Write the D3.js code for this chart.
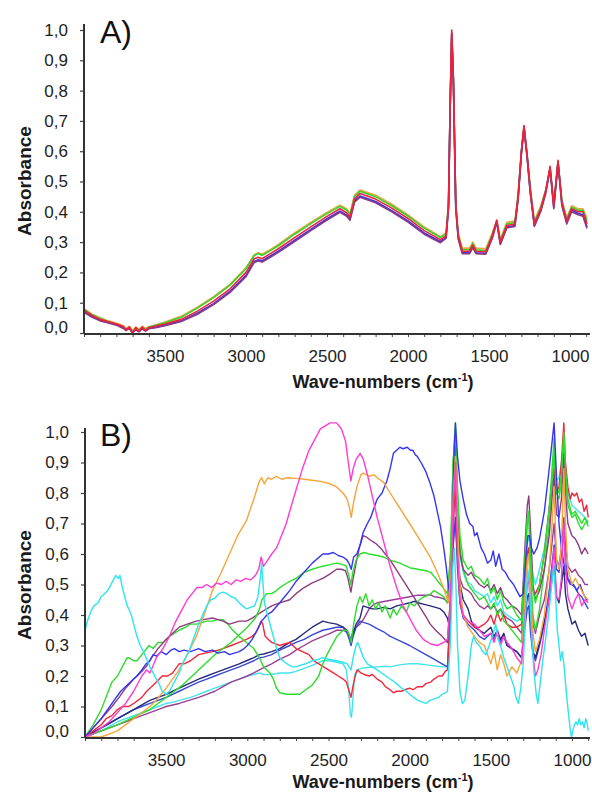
<!DOCTYPE html>
<html>
<head>
<meta charset="utf-8">
<script src="https://cdn.jsdelivr.net/npm/d3@7/dist/d3.min.js"></script>
<style>
  body { margin: 0; background: #fff; }
  svg { display: block; font-family: "Liberation Sans", Arial, sans-serif; }
</style>
</head>
<body>
<svg id="chart" width="592" height="793"></svg>
<script>
// ---------- panel A : wave-numbers shared by all series ----------
const wnA = [4000,3950,3900,3850,3800,3760,3740,3720,3700,3680,3660,3640,3620,3600,3550,3500,3400,3300,3200,3100,
  3000,2950,2925,2900,2850,2800,2700,2600,2500,2420,2380,2358,2330,2296,2200,2100,2000,1900,1800,1765,
  1750,1740,1730,1720,1705,1690,1665,1620,1600,1580,1520,1480,1452,1430,1390,1340,1320,1300,1284,1265,
  1245,1220,1180,1150,1123,1100,1074,1050,1020,990,950,920,895];

const aRed = [0.075,0.058,0.045,0.037,0.03,0.022,0.01,0.02,0.0,0.018,0.005,0.02,0.008,0.018,0.024,0.03,0.045,0.072,0.105,0.145,
  0.2,0.245,0.25,0.245,0.262,0.278,0.315,0.35,0.385,0.41,0.397,0.383,0.443,0.46,0.442,0.412,0.378,0.338,0.308,0.32,
  0.42,0.75,1.0,0.85,0.42,0.32,0.27,0.27,0.29,0.27,0.268,0.32,0.373,0.3,0.355,0.36,0.45,0.6,0.685,0.59,
  0.47,0.36,0.41,0.47,0.55,0.42,0.57,0.43,0.37,0.41,0.4,0.4,0.36];
const aOrange = [0.08,0.062,0.05,0.04,0.032,0.025,0.015,0.022,0.008,0.02,0.012,0.022,0.015,0.02,0.028,0.036,0.055,0.085,0.12,0.16,
  0.215,0.258,0.265,0.26,0.275,0.292,0.33,0.365,0.398,0.422,0.41,0.395,0.455,0.472,0.455,0.425,0.39,0.35,0.318,0.33,
  0.43,0.74,0.98,0.84,0.43,0.33,0.28,0.28,0.3,0.28,0.278,0.33,0.37,0.31,0.365,0.37,0.46,0.6,0.675,0.59,
  0.48,0.37,0.42,0.47,0.54,0.43,0.56,0.44,0.38,0.42,0.41,0.41,0.38];
const aGreen = [0.078,0.06,0.048,0.038,0.03,0.02,0.012,0.018,0.005,0.015,0.01,0.018,0.012,0.02,0.026,0.034,0.052,0.082,0.117,0.157,
  0.212,0.255,0.262,0.256,0.272,0.288,0.326,0.361,0.394,0.418,0.406,0.39,0.45,0.468,0.45,0.42,0.386,0.346,0.315,0.327,
  0.425,0.74,0.99,0.84,0.425,0.325,0.275,0.275,0.295,0.275,0.272,0.325,0.368,0.305,0.36,0.365,0.455,0.6,0.68,0.59,
  0.475,0.365,0.415,0.47,0.545,0.425,0.565,0.435,0.375,0.415,0.405,0.405,0.37];
const aBlue = [0.07,0.055,0.042,0.035,0.028,0.018,0.012,0.015,0.002,0.012,0.005,0.015,0.008,0.015,0.02,0.026,0.04,0.065,0.097,0.137,
  0.19,0.236,0.242,0.238,0.254,0.27,0.306,0.342,0.377,0.402,0.39,0.376,0.436,0.452,0.434,0.404,0.37,0.33,0.302,0.315,
  0.415,0.74,0.99,0.84,0.415,0.315,0.265,0.265,0.285,0.265,0.263,0.315,0.368,0.295,0.35,0.355,0.445,0.595,0.68,0.585,
  0.465,0.355,0.405,0.465,0.545,0.415,0.565,0.425,0.365,0.405,0.395,0.39,0.35];
const aPurple = [0.068,0.052,0.04,0.033,0.026,0.016,0.008,0.015,0.0,0.012,0.004,0.014,0.006,0.014,0.018,0.024,0.038,0.062,0.094,0.133,
  0.186,0.232,0.238,0.234,0.25,0.266,0.302,0.338,0.373,0.398,0.386,0.372,0.432,0.448,0.43,0.4,0.366,0.326,0.298,0.312,
  0.41,0.73,0.985,0.835,0.41,0.31,0.262,0.262,0.282,0.262,0.26,0.312,0.365,0.292,0.347,0.352,0.442,0.59,0.675,0.58,
  0.46,0.352,0.402,0.46,0.54,0.41,0.56,0.42,0.36,0.4,0.39,0.385,0.345];

// ---------- panel B : [wave-number, absorbance] ----------
const bOrange = [[4000,0],[3900,0],[3800,0.02],[3700,0.06],[3600,0.1],[3562,0.12],[3500,0.16],[3420,0.22],[3360,0.28],[3314,0.33],[3260,0.41],[3215,0.48],[3160,0.54],[3110,0.6],[3060,0.66],[3005,0.71],[2960,0.78],[2925,0.84],[2912,0.85],[2895,0.83],[2875,0.85],[2850,0.845],[2820,0.855],[2790,0.845],[2750,0.85],[2700,0.848],[2650,0.845],[2600,0.842],[2550,0.838],[2500,0.832],[2450,0.82],[2410,0.8],[2385,0.78],[2370,0.75],[2360,0.72],[2345,0.77],[2325,0.82],[2300,0.86],[2287,0.865],[2250,0.855],[2220,0.86],[2200,0.85],[2160,0.835],[2120,0.8],[2060,0.75],[2000,0.7],[1930,0.64],[1873,0.59],[1830,0.54],[1792,0.49],[1760,0.44],[1745,0.55],[1730,0.8],[1718,0.92],[1705,0.7],[1690,0.5],[1670,0.4],[1640,0.36],[1600,0.33],[1570,0.31],[1540,0.3],[1500,0.24],[1480,0.28],[1460,0.22],[1440,0.27],[1420,0.24],[1400,0.2],[1370,0.23],[1340,0.21],[1310,0.25],[1290,0.45],[1275,0.58],[1266,0.6],[1255,0.48],[1240,0.34],[1225,0.28],[1200,0.32],[1170,0.4],[1140,0.55],[1120,0.72],[1110,0.82],[1095,0.58],[1080,0.55],[1065,0.62],[1050,0.88],[1040,0.7],[1025,0.55],[1000,0.5],[980,0.52],[960,0.5],[940,0.48],[920,0.46],[900,0.45]];
const bMagenta = [[4000,0],[3950,0.01],[3900,0.03],[3850,0.05],[3800,0.08],[3750,0.11],[3700,0.15],[3650,0.2],[3620,0.22],[3600,0.21],[3560,0.26],[3520,0.29],[3480,0.33],[3440,0.38],[3400,0.42],[3370,0.45],[3340,0.47],[3310,0.49],[3280,0.49],[3250,0.5],[3220,0.49],[3190,0.505],[3160,0.5],[3130,0.51],[3100,0.5],[3070,0.515],[3040,0.51],[3010,0.52],[2980,0.515],[2950,0.53],[2930,0.55],[2915,0.59],[2900,0.56],[2880,0.575],[2850,0.6],[2820,0.62],[2790,0.66],[2760,0.7],[2739,0.74],[2700,0.81],[2660,0.88],[2620,0.94],[2580,0.98],[2550,1.01],[2520,1.02],[2490,1.03],[2450,1.03],[2420,1.01],[2395,0.97],[2378,0.9],[2362,0.84],[2348,0.88],[2330,0.91],[2305,0.93],[2285,0.91],[2260,0.86],[2230,0.79],[2200,0.72],[2160,0.64],[2120,0.56],[2080,0.49],[2040,0.43],[2000,0.39],[1960,0.35],[1916,0.32],[1870,0.305],[1830,0.3],[1790,0.31],[1767,0.32],[1748,0.45],[1732,0.75],[1718,0.9],[1705,0.6],[1690,0.45],[1670,0.4],[1640,0.38],[1600,0.37],[1570,0.35],[1540,0.33],[1500,0.34],[1480,0.31],[1460,0.35],[1440,0.3],[1420,0.33],[1400,0.31],[1370,0.29],[1340,0.26],[1310,0.24],[1290,0.4],[1275,0.5],[1266,0.52],[1255,0.4],[1240,0.27],[1225,0.2],[1210,0.22],[1190,0.27],[1170,0.35],[1140,0.46],[1120,0.56],[1110,0.62],[1095,0.46],[1080,0.45],[1065,0.52],[1050,0.7],[1040,0.56],[1025,0.46],[1000,0.42],[980,0.45],[960,0.47],[940,0.43],[920,0.45],[900,0.44]];
const bGreen1 = [[4000,0],[3900,0.02],[3800,0.04],[3700,0.065],[3600,0.09],[3500,0.13],[3450,0.15],[3400,0.17],[3350,0.195],[3300,0.22],[3250,0.245],[3200,0.27],[3150,0.29],[3100,0.31],[3050,0.335],[3000,0.36],[2950,0.39],[2925,0.42],[2910,0.45],[2895,0.46],[2880,0.47],[2850,0.47],[2820,0.48],[2800,0.49],[2770,0.5],[2739,0.51],[2700,0.52],[2650,0.54],[2600,0.55],[2535,0.56],[2490,0.565],[2450,0.57],[2410,0.565],[2390,0.56],[2375,0.53],[2362,0.5],[2350,0.54],[2330,0.58],[2306,0.6],[2280,0.605],[2250,0.6],[2200,0.595],[2160,0.59],[2120,0.58],[2060,0.57],[2000,0.555],[1950,0.55],[1900,0.545],[1870,0.54],[1840,0.52],[1810,0.5],[1780,0.48],[1767,0.47],[1748,0.6],[1732,0.9],[1718,1.03],[1705,0.82],[1690,0.66],[1670,0.58],[1640,0.55],[1620,0.56],[1600,0.53],[1570,0.52],[1540,0.5],[1520,0.52],[1500,0.47],[1480,0.49],[1460,0.45],[1440,0.48],[1420,0.44],[1400,0.42],[1370,0.43],[1340,0.4],[1310,0.38],[1290,0.58],[1275,0.72],[1266,0.74],[1255,0.6],[1240,0.48],[1225,0.44],[1200,0.5],[1170,0.6],[1140,0.75],[1120,0.9],[1110,0.98],[1095,0.82],[1080,0.8],[1065,0.86],[1050,1.0],[1040,0.88],[1025,0.78],[1000,0.73],[980,0.74],[960,0.72],[940,0.7],[920,0.72],[900,0.69]];
const bGreen2 = [[4000,0],[3950,0.04],[3900,0.09],[3870,0.13],[3834,0.18],[3800,0.2],[3770,0.23],[3740,0.26],[3729,0.26],[3700,0.25],[3680,0.25],[3650,0.27],[3620,0.29],[3605,0.3],[3580,0.29],[3550,0.31],[3520,0.31],[3480,0.33],[3450,0.34],[3420,0.35],[3380,0.36],[3350,0.37],[3314,0.37],[3280,0.375],[3250,0.38],[3215,0.38],[3180,0.385],[3150,0.385],[3120,0.37],[3090,0.35],[3050,0.33],[3005,0.31],[2960,0.29],[2925,0.26],[2900,0.23],[2880,0.22],[2860,0.21],[2840,0.19],[2820,0.16],[2800,0.145],[2760,0.14],[2720,0.14],[2677,0.14],[2640,0.155],[2600,0.17],[2560,0.2],[2535,0.24],[2500,0.28],[2448,0.33],[2410,0.35],[2386,0.35],[2370,0.33],[2360,0.31],[2345,0.37],[2325,0.43],[2306,0.46],[2290,0.44],[2270,0.47],[2250,0.43],[2230,0.45],[2210,0.42],[2190,0.44],[2170,0.41],[2150,0.43],[2120,0.39],[2100,0.42],[2080,0.4],[2050,0.43],[2020,0.41],[2000,0.44],[1970,0.43],[1940,0.45],[1910,0.46],[1880,0.465],[1850,0.48],[1820,0.47],[1790,0.46],[1767,0.44],[1748,0.6],[1732,0.9],[1718,1.0],[1705,0.78],[1690,0.62],[1670,0.55],[1640,0.5],[1600,0.47],[1570,0.45],[1540,0.46],[1500,0.42],[1480,0.44],[1460,0.4],[1440,0.42],[1420,0.38],[1400,0.37],[1370,0.35],[1340,0.33],[1310,0.31],[1290,0.55],[1275,0.7],[1266,0.72],[1255,0.55],[1240,0.4],[1225,0.35],[1200,0.42],[1170,0.55],[1140,0.7],[1120,0.85],[1110,0.93],[1095,0.8],[1080,0.78],[1065,0.84],[1050,0.98],[1040,0.85],[1025,0.76],[1000,0.72],[980,0.73],[960,0.7],[940,0.68],[920,0.7],[900,0.71]];
const bBlue1 = [[4000,0],[3950,0.03],[3900,0.06],[3834,0.11],[3780,0.15],[3720,0.18],[3680,0.2],[3650,0.22],[3624,0.24],[3600,0.25],[3580,0.27],[3560,0.265],[3530,0.28],[3500,0.27],[3470,0.285],[3450,0.29],[3420,0.28],[3390,0.285],[3350,0.28],[3300,0.29],[3260,0.28],[3215,0.285],[3180,0.275],[3140,0.28],[3110,0.27],[3080,0.275],[3050,0.28],[3020,0.29],[3000,0.3],[2970,0.32],[2940,0.35],[2912,0.38],[2880,0.4],[2850,0.41],[2800,0.44],[2770,0.46],[2739,0.48],[2700,0.51],[2650,0.54],[2600,0.57],[2535,0.6],[2500,0.6],[2470,0.605],[2440,0.595],[2410,0.59],[2385,0.58],[2370,0.565],[2360,0.55],[2345,0.59],[2325,0.6],[2305,0.63],[2287,0.67],[2260,0.7],[2240,0.72],[2220,0.75],[2200,0.78],[2170,0.8],[2140,0.84],[2120,0.88],[2100,0.93],[2080,0.94],[2060,0.95],[2040,0.945],[2015,0.95],[1995,0.94],[1980,0.94],[1965,0.925],[1953,0.92],[1930,0.9],[1900,0.87],[1873,0.83],[1850,0.79],[1830,0.74],[1810,0.69],[1790,0.62],[1775,0.56],[1767,0.52],[1752,0.46],[1740,0.6],[1728,0.9],[1718,1.03],[1705,0.92],[1690,0.84],[1670,0.78],[1650,0.73],[1630,0.7],[1610,0.69],[1600,0.66],[1585,0.67],[1560,0.62],[1540,0.6],[1520,0.57],[1500,0.58],[1485,0.61],[1470,0.56],[1450,0.6],[1430,0.55],[1410,0.54],[1390,0.52],[1360,0.5],[1340,0.48],[1320,0.46],[1300,0.47],[1285,0.58],[1272,0.66],[1262,0.66],[1250,0.62],[1235,0.6],[1215,0.62],[1200,0.65],[1170,0.74],[1140,0.88],[1120,0.98],[1110,1.03],[1095,0.85],[1080,0.7],[1065,0.62],[1050,0.57],[1030,0.52],[1010,0.5],[990,0.5],[970,0.48],[950,0.5],[930,0.47],[910,0.45],[900,0.45]];
const bPlum = [[4000,0],[3950,0.03],[3900,0.06],[3834,0.1],[3790,0.13],[3750,0.16],[3700,0.19],[3660,0.21],[3624,0.23],[3590,0.26],[3550,0.29],[3500,0.32],[3460,0.34],[3420,0.36],[3370,0.37],[3314,0.38],[3270,0.385],[3215,0.39],[3180,0.385],[3150,0.38],[3110,0.37],[3080,0.375],[3050,0.38],[3005,0.38],[2970,0.39],[2940,0.4],[2912,0.41],[2880,0.42],[2850,0.43],[2800,0.44],[2739,0.45],[2700,0.47],[2650,0.49],[2600,0.505],[2535,0.52],[2490,0.535],[2450,0.55],[2420,0.55],[2395,0.545],[2380,0.52],[2362,0.475],[2348,0.52],[2330,0.57],[2310,0.62],[2287,0.66],[2265,0.655],[2240,0.645],[2210,0.635],[2180,0.62],[2150,0.6],[2120,0.58],[2090,0.555],[2060,0.53],[2030,0.505],[2000,0.48],[1970,0.455],[1930,0.42],[1900,0.395],[1873,0.37],[1840,0.35],[1800,0.33],[1767,0.31],[1750,0.45],[1732,0.8],[1718,0.95],[1705,0.72],[1690,0.6],[1670,0.55],[1640,0.53],[1620,0.54],[1600,0.52],[1570,0.5],[1540,0.49],[1520,0.5],[1500,0.48],[1480,0.5],[1460,0.47],[1440,0.49],[1420,0.46],[1400,0.45],[1370,0.43],[1340,0.42],[1310,0.4],[1290,0.62],[1275,0.76],[1266,0.79],[1255,0.68],[1240,0.5],[1225,0.45],[1200,0.48],[1170,0.55],[1140,0.66],[1120,0.8],[1110,0.86],[1095,0.73],[1080,0.72],[1065,0.78],[1050,0.93],[1040,0.8],[1025,0.7],[1000,0.66],[980,0.65],[960,0.63],[940,0.6],[920,0.62],[900,0.6]];
const bNavy = [[4000,0],[3950,0.015],[3900,0.03],[3850,0.045],[3800,0.06],[3750,0.075],[3700,0.09],[3650,0.105],[3600,0.12],[3550,0.13],[3500,0.14],[3460,0.15],[3420,0.16],[3360,0.175],[3300,0.19],[3250,0.2],[3200,0.21],[3150,0.22],[3100,0.23],[3050,0.24],[3005,0.25],[2960,0.26],[2925,0.27],[2900,0.272],[2850,0.28],[2800,0.29],[2739,0.31],[2700,0.32],[2650,0.34],[2600,0.36],[2535,0.38],[2500,0.375],[2450,0.37],[2410,0.36],[2385,0.35],[2370,0.33],[2361,0.31],[2348,0.34],[2330,0.37],[2306,0.39],[2287,0.43],[2260,0.425],[2230,0.42],[2200,0.42],[2160,0.425],[2120,0.42],[2080,0.43],[2040,0.435],[2000,0.44],[1970,0.445],[1950,0.44],[1910,0.435],[1873,0.43],[1840,0.425],[1810,0.42],[1790,0.41],[1767,0.39],[1755,0.36],[1740,0.55],[1728,0.75],[1718,0.82],[1705,0.62],[1690,0.5],[1670,0.45],[1640,0.42],[1620,0.38],[1600,0.36],[1570,0.35],[1540,0.34],[1520,0.35],[1500,0.36],[1480,0.33],[1460,0.35],[1440,0.32],[1420,0.34],[1400,0.3],[1370,0.29],[1340,0.28],[1310,0.26],[1290,0.38],[1275,0.46],[1266,0.47],[1255,0.38],[1240,0.28],[1225,0.26],[1200,0.31],[1170,0.38],[1140,0.45],[1120,0.53],[1110,0.56],[1095,0.46],[1080,0.44],[1065,0.5],[1050,0.56],[1040,0.47],[1025,0.42],[1000,0.37],[980,0.38],[960,0.35],[940,0.33],[920,0.34],[900,0.3]];
const bPurple = [[4000,0],[3950,0.01],[3900,0.02],[3850,0.03],[3800,0.04],[3750,0.05],[3700,0.06],[3650,0.07],[3600,0.08],[3550,0.09],[3500,0.1],[3460,0.105],[3420,0.11],[3360,0.12],[3300,0.13],[3250,0.14],[3200,0.15],[3150,0.165],[3100,0.18],[3050,0.19],[3000,0.2],[2960,0.21],[2925,0.22],[2890,0.23],[2850,0.24],[2800,0.255],[2739,0.27],[2700,0.285],[2650,0.3],[2600,0.315],[2535,0.33],[2490,0.34],[2450,0.35],[2410,0.35],[2385,0.345],[2372,0.33],[2361,0.32],[2348,0.35],[2330,0.36],[2306,0.37],[2280,0.39],[2250,0.42],[2220,0.435],[2200,0.44],[2150,0.445],[2100,0.45],[2050,0.455],[2000,0.46],[1950,0.465],[1900,0.465],[1870,0.466],[1850,0.46],[1820,0.458],[1800,0.455],[1780,0.45],[1767,0.44],[1750,0.5],[1732,0.65],[1718,0.7],[1705,0.6],[1690,0.52],[1670,0.49],[1640,0.48],[1620,0.47],[1600,0.45],[1570,0.43],[1540,0.42],[1520,0.43],[1500,0.42],[1480,0.43],[1460,0.41],[1440,0.42],[1420,0.4],[1400,0.39],[1370,0.38],[1340,0.36],[1310,0.34],[1290,0.5],[1275,0.6],[1266,0.62],[1255,0.5],[1240,0.37],[1225,0.34],[1200,0.4],[1170,0.45],[1140,0.55],[1120,0.65],[1110,0.7],[1095,0.58],[1080,0.56],[1065,0.62],[1050,0.72],[1040,0.63],[1025,0.56],[1000,0.54],[980,0.55],[960,0.53],[940,0.52],[920,0.5],[900,0.5]];
const bRed = [[4000,0],[3950,0.02],[3900,0.04],[3870,0.06],[3834,0.07],[3800,0.09],[3770,0.1],[3730,0.1],[3700,0.11],[3650,0.13],[3620,0.15],[3600,0.16],[3560,0.18],[3525,0.2],[3490,0.2],[3460,0.21],[3420,0.24],[3390,0.24],[3350,0.25],[3300,0.27],[3260,0.275],[3215,0.28],[3180,0.285],[3150,0.29],[3100,0.3],[3050,0.31],[3005,0.32],[2970,0.33],[2950,0.34],[2930,0.36],[2915,0.38],[2905,0.37],[2890,0.33],[2870,0.32],[2850,0.31],[2800,0.3],[2770,0.305],[2739,0.31],[2700,0.29],[2660,0.28],[2620,0.27],[2590,0.25],[2560,0.24],[2530,0.23],[2500,0.22],[2470,0.21],[2440,0.2],[2410,0.19],[2390,0.18],[2375,0.155],[2361,0.13],[2348,0.17],[2330,0.21],[2320,0.22],[2300,0.21],[2280,0.205],[2250,0.2],[2230,0.205],[2200,0.19],[2170,0.18],[2150,0.165],[2120,0.155],[2100,0.145],[2080,0.15],[2050,0.15],[2030,0.155],[2000,0.16],[1980,0.155],[1950,0.165],[1920,0.165],[1900,0.175],[1870,0.18],[1850,0.19],[1820,0.2],[1800,0.2],[1780,0.215],[1767,0.22],[1755,0.35],[1742,0.48],[1730,0.7],[1718,0.88],[1705,0.6],[1690,0.44],[1670,0.4],[1640,0.38],[1620,0.37],[1600,0.36],[1570,0.36],[1540,0.37],[1520,0.38],[1500,0.4],[1480,0.37],[1460,0.41],[1440,0.38],[1420,0.4],[1400,0.37],[1370,0.36],[1340,0.36],[1310,0.37],[1290,0.5],[1275,0.6],[1266,0.62],[1255,0.54],[1240,0.48],[1225,0.47],[1200,0.5],[1170,0.6],[1140,0.75],[1120,0.85],[1110,0.88],[1095,0.8],[1080,0.82],[1065,0.9],[1050,1.03],[1040,0.9],[1025,0.82],[1010,0.78],[1000,0.8],[985,0.79],[970,0.8],[955,0.77],[940,0.78],[925,0.74],[910,0.76],[900,0.72]];
const bCyan1 = [[4000,0.35],[3985,0.38],[3965,0.41],[3945,0.43],[3920,0.44],[3900,0.46],[3880,0.47],[3860,0.48],[3840,0.5],[3820,0.52],[3810,0.53],[3795,0.52],[3785,0.53],[3770,0.49],[3755,0.46],[3740,0.43],[3730,0.42],[3715,0.4],[3700,0.37],[3680,0.33],[3660,0.3],[3640,0.28],[3624,0.26],[3600,0.23],[3580,0.21],[3560,0.19],[3540,0.17],[3525,0.15],[3500,0.14],[3480,0.15],[3460,0.17],[3440,0.19],[3420,0.21],[3400,0.24],[3380,0.26],[3360,0.28],[3340,0.31],[3320,0.34],[3300,0.37],[3275,0.4],[3250,0.43],[3225,0.45],[3200,0.455],[3175,0.47],[3150,0.475],[3125,0.47],[3100,0.46],[3075,0.455],[3050,0.44],[3030,0.43],[3005,0.42],[2980,0.425],[2955,0.43],[2935,0.46],[2920,0.52],[2912,0.57],[2903,0.5],[2895,0.44],[2880,0.41],[2870,0.39],[2860,0.37],[2850,0.35],[2840,0.33],[2820,0.29],[2800,0.26],[2770,0.245],[2740,0.235],[2720,0.23],[2700,0.23],[2677,0.235],[2640,0.24],[2600,0.25],[2560,0.255],[2535,0.26],[2500,0.255],[2450,0.25],[2410,0.245],[2385,0.24],[2372,0.23],[2361,0.22],[2348,0.26],[2330,0.3],[2320,0.31],[2305,0.29],[2285,0.26],[2260,0.24],[2230,0.23],[2200,0.22],[2160,0.205],[2120,0.19],[2080,0.175],[2050,0.16],[2020,0.15],[2000,0.14],[1975,0.13],[1950,0.12],[1925,0.115],[1900,0.11],[1875,0.12],[1850,0.125],[1820,0.13],[1800,0.14],[1780,0.145],[1767,0.15],[1750,0.3],[1735,0.55],[1725,0.62],[1715,0.5],[1705,0.3],[1690,0.15],[1675,0.11],[1660,0.12],[1640,0.2],[1620,0.3],[1606,0.33],[1590,0.31],[1570,0.3],[1550,0.28],[1530,0.27],[1510,0.3],[1490,0.33],[1470,0.37],[1455,0.32],[1440,0.3],[1420,0.26],[1400,0.23],[1380,0.2],[1360,0.17],[1345,0.13],[1330,0.11],[1315,0.16],[1300,0.24],[1285,0.42],[1272,0.55],[1262,0.5],[1250,0.35],[1235,0.22],[1220,0.14],[1210,0.11],[1195,0.18],[1180,0.25],[1160,0.33],[1140,0.42],[1125,0.5],[1112,0.56],[1100,0.45],[1090,0.35],[1080,0.3],[1070,0.25],[1060,0.28],[1050,0.24],[1040,0.18],[1030,0.12],[1020,0.07],[1010,0.02],[1003,0],[995,0.02],[985,0.04],[975,0.05],[965,0.04],[955,0.06],[945,0.04],[935,0.05],[925,0.03],[915,0.06],[905,0.04],[900,0.02]];
const bCyan2 = [[4000,0],[3950,0.01],[3900,0.02],[3850,0.035],[3800,0.05],[3750,0.06],[3700,0.07],[3650,0.08],[3600,0.09],[3550,0.1],[3500,0.11],[3450,0.115],[3420,0.12],[3350,0.13],[3300,0.14],[3250,0.15],[3200,0.16],[3150,0.17],[3100,0.18],[3050,0.19],[3000,0.2],[2960,0.205],[2925,0.21],[2900,0.205],[2850,0.205],[2800,0.21],[2739,0.21],[2700,0.215],[2650,0.225],[2600,0.235],[2535,0.25],[2490,0.25],[2450,0.245],[2410,0.24],[2390,0.22],[2375,0.15],[2365,0.07],[2358,0.065],[2350,0.12],[2340,0.2],[2325,0.22],[2300,0.225],[2260,0.228],[2200,0.23],[2150,0.232],[2120,0.23],[2080,0.235],[2040,0.238],[2000,0.24],[1950,0.24],[1916,0.238],[1873,0.235],[1830,0.232],[1800,0.23],[1767,0.23],[1750,0.45],[1735,0.85],[1722,1.0],[1710,0.85],[1700,0.7],[1685,0.58],[1670,0.54],[1650,0.51],[1620,0.5],[1600,0.48],[1570,0.47],[1540,0.46],[1520,0.47],[1500,0.44],[1480,0.46],[1460,0.43],[1440,0.45],[1420,0.41],[1400,0.4],[1370,0.39],[1340,0.38],[1310,0.39],[1290,0.56],[1275,0.64],[1266,0.66],[1255,0.6],[1240,0.53],[1225,0.5],[1200,0.55],[1170,0.62],[1140,0.75],[1120,0.86],[1110,0.9],[1095,0.84],[1080,0.85],[1065,0.9],[1050,0.95],[1040,0.86],[1025,0.8],[1000,0.76],[980,0.75],[960,0.74],[940,0.73],[920,0.72],[900,0.7]];
const bBlue2 = [[4000,0],[3950,0.015],[3900,0.03],[3850,0.045],[3800,0.06],[3750,0.075],[3700,0.09],[3650,0.1],[3600,0.11],[3550,0.12],[3500,0.13],[3460,0.14],[3420,0.15],[3360,0.165],[3300,0.18],[3250,0.19],[3200,0.2],[3150,0.21],[3100,0.22],[3050,0.23],[3005,0.24],[2960,0.25],[2925,0.26],[2900,0.262],[2850,0.27],[2800,0.285],[2739,0.3],[2700,0.31],[2650,0.32],[2600,0.335],[2535,0.35],[2490,0.355],[2450,0.36],[2410,0.36],[2385,0.34],[2372,0.32],[2361,0.3],[2348,0.33],[2330,0.36],[2306,0.38],[2280,0.375],[2250,0.37],[2200,0.355],[2160,0.345],[2120,0.33],[2080,0.32],[2040,0.31],[2000,0.3],[1950,0.285],[1900,0.27],[1850,0.255],[1800,0.24],[1767,0.23],[1750,0.38],[1735,0.6],[1718,0.72],[1705,0.55],[1690,0.44],[1670,0.39],[1640,0.37],[1620,0.36],[1600,0.35],[1570,0.33],[1540,0.32],[1520,0.33],[1500,0.34],[1480,0.32],[1460,0.34],[1440,0.31],[1420,0.33],[1400,0.3],[1370,0.29],[1340,0.28],[1310,0.26],[1290,0.36],[1275,0.42],[1266,0.43],[1255,0.34],[1240,0.27],[1225,0.25],[1200,0.3],[1170,0.37],[1140,0.48],[1120,0.58],[1110,0.63],[1095,0.55],[1080,0.54],[1065,0.6],[1050,0.68],[1040,0.58],[1025,0.52],[1000,0.5],[980,0.49],[960,0.47],[940,0.46],[920,0.44],[900,0.42]];

const yTicks = [0, 0.1, 0.2, 0.3, 0.4, 0.5, 0.6, 0.7, 0.8, 0.9, 1.0];
const xLabels = [3500, 3000, 2500, 2000, 1500, 1000];
const xMinor = d3.range(900, 4001, 100);

const fmt = d => d3.format('.1f')(d).replace('.', ',');
const svg = d3.select('#chart');

function panel(p) {
  const g = svg.append('g');
  const x = d3.scaleLinear().domain([4000, 895]).range([p.left, p.right]);
  const y = d3.scaleLinear().domain([0, 1]).range([p.y0, p.y1]);

  const line = d3.line().x(d => x(d[0])).y(d => y(d[1]));
  p.series.forEach(s => {
    g.append('path')
      .datum(s.data)
      .attr('fill', 'none')
      .attr('stroke', s.color)
      .attr('stroke-width', p.lw)
      .attr('stroke-linejoin', 'round')
      .attr('d', line);
  });

  // y axis
  const ya = g.append('g')
    .attr('transform', `translate(${p.left},0)`)
    .call(d3.axisLeft(y).tickValues(yTicks).tickFormat(fmt).tickSize(4).tickPadding(12));
  ya.select('.domain').remove();
  ya.selectAll('.tick line').attr('stroke', '#444').attr('stroke-width', 1.2);
  ya.selectAll('.tick text')
    .attr('font-size', 17).attr('fill', '#1e1e1e')
    .attr('font-family', '"Liberation Sans", Arial, sans-serif')
    .attr('dy', d => d === 0 ? '-0.05em' : '0.32em');

  // x axis, a tick every 100, labels every 500
  const xa = g.append('g')
    .attr('transform', `translate(0,${p.axisY})`)
    .call(d3.axisBottom(x).tickValues(xMinor)
      .tickFormat(d => xLabels.includes(d) ? d : '').tickSize(3).tickPadding(13));
  xa.select('.domain').remove();
  xa.selectAll('.tick line').attr('stroke', '#444').attr('stroke-width', 1);
  xa.selectAll('.tick text')
    .attr('font-size', 17).attr('fill', '#1e1e1e')
    .attr('font-family', '"Liberation Sans", Arial, sans-serif');

  // axis lines
  g.append('line').attr('x1', p.left).attr('x2', p.left).attr('y1', p.top).attr('y2', p.axisY)
    .attr('stroke', '#333').attr('stroke-width', 2);
  g.append('line').attr('x1', p.left).attr('x2', 590).attr('y1', p.axisY).attr('y2', p.axisY)
    .attr('stroke', '#333').attr('stroke-width', 2);

  // titles
  const xt = g.append('text').attr('x', 383).attr('y', p.titleY)
    .attr('text-anchor', 'middle').attr('font-size', 18).attr('font-weight', 'bold').attr('fill', '#1a1a1a');
  xt.append('tspan').text('Wave-numbers (cm');
  xt.append('tspan').attr('font-size', 11).attr('dy', -7).text('-1');
  xt.append('tspan').attr('dy', 7).text(')');

  g.append('text')
    .attr('transform', `translate(31,${p.ytitle}) rotate(-90)`)
    .attr('text-anchor', 'middle').attr('font-size', 19).attr('font-weight', 'bold').attr('fill', '#1a1a1a')
    .text('Absorbance');

  g.append('text').attr('x', 100).attr('y', p.labelY)
    .attr('font-size', 32).attr('fill', '#111').text(p.label);
}

const zipA = vals => wnA.map((w, i) => [w, vals[i]]);

panel({
  left: 84, right: 587, top: 24, y0: 333, y1: 30, axisY: 334, titleY: 388, ytitle: 181, labelY: 43,
  label: 'A)', lw: 1.6,
  series: [
    { data: zipA(aOrange), color: '#f5a23a' },
    { data: zipA(aGreen), color: '#2fd62f' },
    { data: zipA(aBlue), color: '#3434e8' },
    { data: zipA(aPurple), color: '#8a3a86' },
    { data: zipA(aRed), color: '#f2203a' }
  ]
});

panel({
  left: 85, right: 589, top: 428, y0: 737, y1: 432, axisY: 738, titleY: 788, ytitle: 585, labelY: 446,
  label: 'B)', lw: 1.4,
  series: [
    { data: bCyan2, color: '#45e3ec' },
    { data: bPurple, color: '#9a3f95' },
    { data: bBlue2, color: '#3a48d6' },
    { data: bNavy, color: '#262a7c' },
    { data: bRed, color: '#f0283a' },
    { data: bGreen2, color: '#2fdc2f' },
    { data: bPlum, color: '#8c3c80' },
    { data: bGreen1, color: '#28e028' },
    { data: bBlue1, color: '#3636ee' },
    { data: bOrange, color: '#f6a43c' },
    { data: bMagenta, color: '#ff3cd4' },
    { data: bCyan1, color: '#2ee4ee' }
  ]
});
</script>
</body>
</html>
